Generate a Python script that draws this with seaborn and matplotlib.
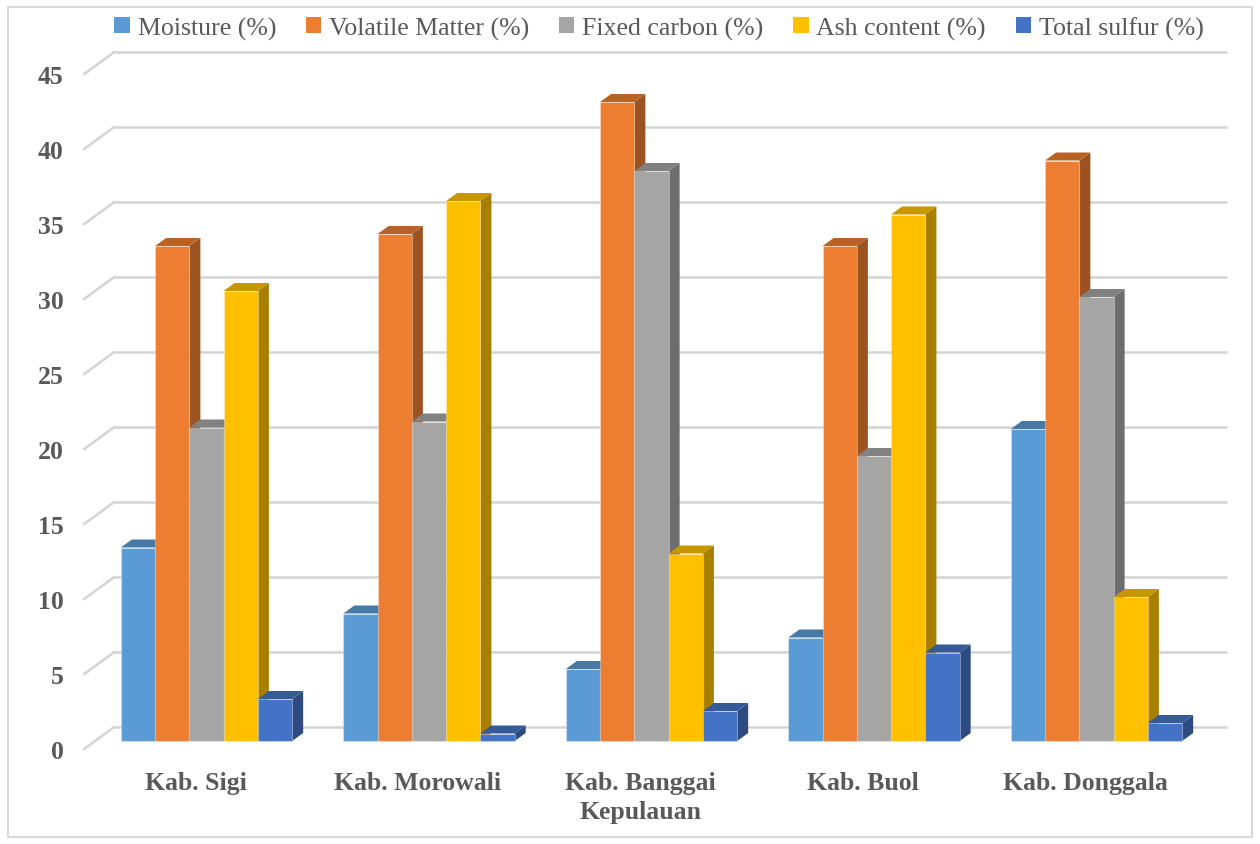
import matplotlib
matplotlib.use("Agg")
import matplotlib.pyplot as plt
import numpy as np
import pandas as pd
import seaborn as sns
from matplotlib.patches import Polygon, Rectangle
from matplotlib.colors import to_rgb

# ---- data -------------------------------------------------------------
regions = ["Kab. Sigi", "Kab. Morowali", "Kab. Banggai\nKepulauan", "Kab. Buol", "Kab. Donggala"]
moisture = [12.9, 8.5, 4.8, 6.9, 20.8]
volatile_matter = [33.0, 33.8, 42.6, 33.0, 38.7]
fixed_carbon = [20.9, 21.3, 38.0, 19.0, 29.6]
ash_content = [30.0, 36.0, 12.5, 35.1, 9.6]
total_sulfur = [2.8, 0.5, 2.0, 5.9, 1.2]

params = ["Moisture (%)", "Volatile Matter (%)", "Fixed carbon (%)",
          "Ash content (%)", "Total sulfur (%)"]
colors = ["#5B9BD5", "#ED7D31", "#A5A5A5", "#FFC000", "#4472C4"]
y_ticks = [0, 5, 10, 15, 20, 25, 30, 35, 40, 45]

series = [moisture, volatile_matter, fixed_carbon, ash_content, total_sulfur]
df = pd.DataFrame({
    "region": np.repeat([regions], len(params), axis=0).ravel(),
    "param": np.repeat(params, len(regions)),
    "value": np.concatenate(series),
})

# ---- figure -----------------------------------------------------------
W, H, DPI = 1260, 845, 100
fig = plt.figure(figsize=(W / DPI, H / DPI), dpi=DPI)
fig.patch.set_facecolor("white")

# front plane of the 3-D box
ax_left, ax_right, ax_bottom, ax_top = 84.25, 1196.75, 750, 75
ax = fig.add_axes([ax_left / W, (H - ax_bottom) / H,
                   (ax_right - ax_left) / W, (ax_bottom - ax_top) / H])
ax.set_facecolor("none")

sns.barplot(data=df, x="region", y="value", hue="param", order=regions,
            hue_order=params, palette=colors, saturation=1, width=0.77,
            gap=0, errorbar=None, ax=ax, zorder=3)

ax.set_xlim(-0.5, len(regions) - 0.5)
ax.set_ylim(0, 45)

# pixel -> data scale
p0 = ax.transData.transform((0, 0))
p1 = ax.transData.transform((1, 1))
sx, sy = p1[0] - p0[0], p1[1] - p0[1]

def px(dx, dy):
    return dx / sx, dy / sy

bar_off = px(11, 8)      # bars sit a little behind the front plane
depth = px(11, 8)        # bar depth
wall_off = px(30, 22)    # back wall

GRID = "#D4D4D4"
# back-wall gridlines and side-wall diagonals
for v in y_ticks:
    ax.plot([-0.5 + wall_off[0], len(regions) - 0.5 + wall_off[0]],
            [v + wall_off[1]] * 2, color=GRID, lw=1.8, zorder=0.5,
            clip_on=False, solid_capstyle="butt")
    ax.plot([-0.5, -0.5 + wall_off[0]], [v, v + wall_off[1]],
            color=GRID, lw=1.8, zorder=0.5, clip_on=False)

def shade(c, f):
    r, g, b = to_rgb(c)
    return (r * f, g * f, b * f)

# 3-D faces for each bar
for j, cont in enumerate(ax.containers):
    col = colors[j]
    for patch in cont:
        x0 = patch.get_x() + bar_off[0]
        w = patch.get_width()
        h = patch.get_height()
        y0 = bar_off[1]
        y1 = y0 + h
        x1 = x0 + w
        patch.set_x(x0)
        patch.set_y(y0)
        patch.set_zorder(3 + 2 * j + 1)
        patch.set_edgecolor((1, 1, 1, 0.3))
        patch.set_linewidth(0.8)
        patch.set_clip_on(False)
        side = Polygon([(x1, y0), (x1 + depth[0], y0 + depth[1]),
                        (x1 + depth[0], y1 + depth[1]), (x1, y1)],
                       closed=True, facecolor=shade(col, 0.66),
                       edgecolor="none", zorder=3 + 2 * j, clip_on=False)
        top = Polygon([(x0, y1), (x1, y1), (x1 + depth[0], y1 + depth[1]),
                       (x0 + depth[0], y1 + depth[1])],
                      closed=True, facecolor=shade(col, 0.78),
                      edgecolor="none", zorder=3 + 2 * j, clip_on=False)
        ax.add_patch(side)
        ax.add_patch(top)

# ---- axes styling -----------------------------------------------------
for s in ax.spines.values():
    s.set_visible(False)
ax.set_xlabel("")
ax.set_ylabel("")
ax.set_yticks(y_ticks)
ax.set_yticklabels([str(t) for t in y_ticks])
ax.tick_params(axis="both", length=0)
ax.tick_params(axis="y", pad=15)
ax.tick_params(axis="x", pad=16)
TXT = "#595959"
for lab in ax.get_yticklabels():
    lab.set_fontfamily("Liberation Serif")
    lab.set_fontweight("bold")
    lab.set_fontsize(18.5)
    lab.set_color(TXT)
for lab in ax.get_xticklabels():
    lab.set_fontfamily("Liberation Serif")
    lab.set_fontweight("bold")
    lab.set_fontsize(18.5)
    lab.set_color(TXT)
    lab.set_linespacing(1.3)
ax.grid(False)

# legend along the top
handles, labels = ax.get_legend_handles_labels()
if ax.legend_ is not None:
    ax.legend_.remove()
leg = fig.legend(handles, labels, loc="center", bbox_to_anchor=(0.523, 1 - 29 / H),
                 ncol=5, frameon=False, handlelength=0.6, handleheight=0.6,
                 handletextpad=0.3, columnspacing=1.15,
                 prop={"family": "Liberation Serif", "size": 18.6})
for t in leg.get_texts():
    t.set_color(TXT)
for hnd in leg.legend_handles:
    hnd.set_edgecolor("none")

# chart border
fig.patches.append(Rectangle((8 / W, 7 / H), (W - 16) / W, (H - 15) / H,
                             transform=fig.transFigure, fill=False,
                             edgecolor="#D9D9D9", lw=1.5))

fig.savefig("out.png", dpi=DPI)
